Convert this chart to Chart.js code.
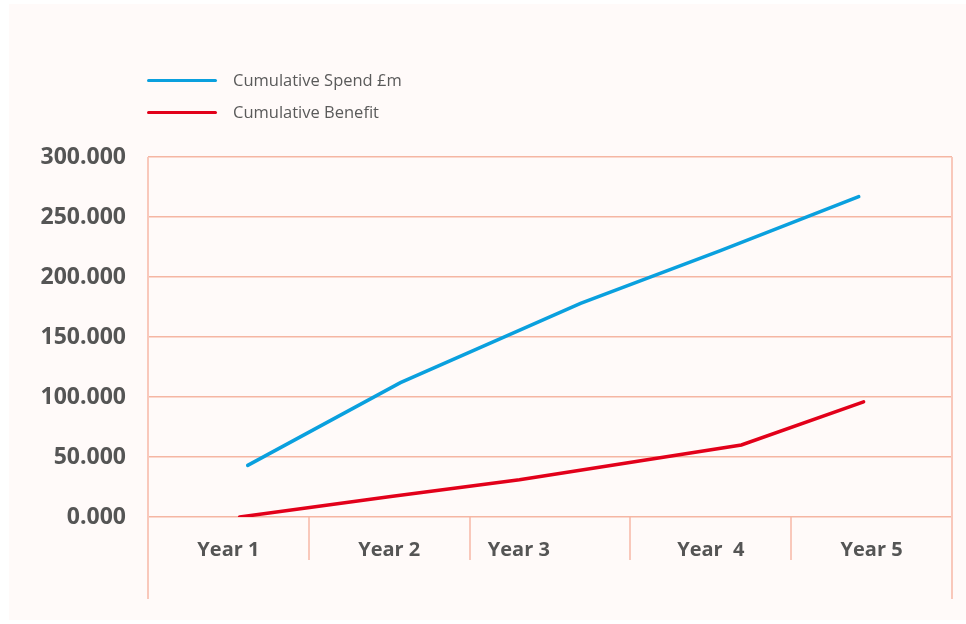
<!DOCTYPE html>
<html>
<head>
<meta charset="utf-8">
<script src="https://cdn.jsdelivr.net/npm/chart.js@4.4.1/dist/chart.umd.min.js"></script>
<style>
  html, body { margin: 0; padding: 0; background: #ffffff; }
  #card { position: absolute; left: 9px; top: 4px; width: 957px; height: 616px; background: #fffaf9; }
  #wrap { position: absolute; left: 0; top: 0; width: 966px; height: 624px; }
  .legend { position: absolute; left: 147px; font-family: "Open Sans", sans-serif; font-size: 16.5px; color: #5a5a5a; }
  .legend span.line { position: absolute; left: 0; width: 70px; height: 3px; border-radius: 2px; }
  .legend span.txt { position: absolute; left: 86px; white-space: nowrap; line-height: 20px; }
</style>
</head>
<body>
<div id="card"></div>
<div id="wrap"><canvas id="chart" width="966" height="624"></canvas></div>
<div class="legend" style="top:70px"><span class="line" style="top:9px;background:#0aa0de"></span><span class="txt">Cumulative Spend £m</span></div>
<div class="legend" style="top:102px"><span class="line" style="top:9px;background:#e2001a"></span><span class="txt">Cumulative Benefit</span></div>
<script>
// categories on the x axis
const years = ['Year 1', 'Year 2', 'Year 3', 'Year  4', 'Year 5'];

// series, x given in year units (1 = centre of Year 1)
const spendX = [1.12, 2.07, 3.19, 4.06, 4.92];
const spendValues = [43, 112, 178, 222, 267];
const benefitX = [1.07, 2.01, 2.81, 4.19, 4.95];
const benefitValues = [0, 17, 31, 60, 96];

const yTicks = [0, 50, 100, 150, 200, 250, 300];

const gridColor = '#f5b6a3';
const edgeColor = '#f9c8bb';
const textColor = '#555555';

// the long left/right frame lines that run below the axis
const framePlugin = {
    id: 'frame',
    afterDraw(chart) {
        const ctx = chart.ctx;
        const a = chart.chartArea;
        ctx.save();
        ctx.strokeStyle = edgeColor;
        ctx.lineWidth = 2;
        [a.left, a.right].forEach(x => {
            ctx.beginPath();
            ctx.moveTo(x, a.top);
            ctx.lineTo(x, a.bottom + 82);
            ctx.stroke();
        });
        ctx.restore();
    }
};

const ctx = document.getElementById('chart').getContext('2d');
new Chart(ctx, {
    type: 'line',
    data: {
        labels: years,
        datasets: [
            {
                label: 'Cumulative Spend £m',
                data: spendX.map((x, i) => ({ x: x, y: spendValues[i] })),
                xAxisID: 'xv',
                borderColor: '#0aa0de',
                borderWidth: 3.5,
                pointRadius: 0,
                borderCapStyle: 'round',
                tension: 0
            },
            {
                label: 'Cumulative Benefit',
                data: benefitX.map((x, i) => ({ x: x, y: benefitValues[i] })),
                xAxisID: 'xv',
                borderColor: '#e2001a',
                borderWidth: 3.5,
                pointRadius: 0,
                borderCapStyle: 'round',
                tension: 0
            }
        ]
    },
    options: {
        responsive: false,
        animation: false,
        layout: { padding: { left: 0, right: 14, top: 157, bottom: 24 } },
        plugins: {
            legend: { display: false },
            tooltip: { enabled: false }
        },
        scales: {
            x: {
                type: 'category',
                labels: years,
                offset: true,
                border: { display: false },
                grid: { offset: true, drawOnChartArea: false, drawTicks: true, tickLength: 43, color: edgeColor, lineWidth: 2 },
                ticks: {
                    color: textColor,
                    padding: -22,
                    maxRotation: 0,
                    font: { family: 'Open Sans', size: 20, weight: 'bold' },
                    // the original sits "Year 3" left of its cell; trailing spaces mimic that
                    callback: (v, i) => i === 2 ? years[i] + ' '.repeat(12) : years[i]
                },
                afterFit(scale) { scale.height = 83; }
            },
            xv: {
                type: 'linear',
                display: false,
                min: 0.5,
                max: 5.5
            },
            y: {
                min: 0,
                max: 300,
                afterBuildTicks(scale) { scale.ticks = yTicks.map(v => ({ value: v })); },
                border: { display: false },
                grid: { color: gridColor, lineWidth: 1.5, drawTicks: false },
                ticks: {
                    color: textColor,
                    padding: 22,
                    font: { family: 'Open Sans', size: 23, weight: 'bold' },
                    callback: v => v.toFixed(3)
                },
                afterFit(scale) { scale.width = 148; }
            }
        }
    },
    plugins: [framePlugin]
});
</script>
</body>
</html>
